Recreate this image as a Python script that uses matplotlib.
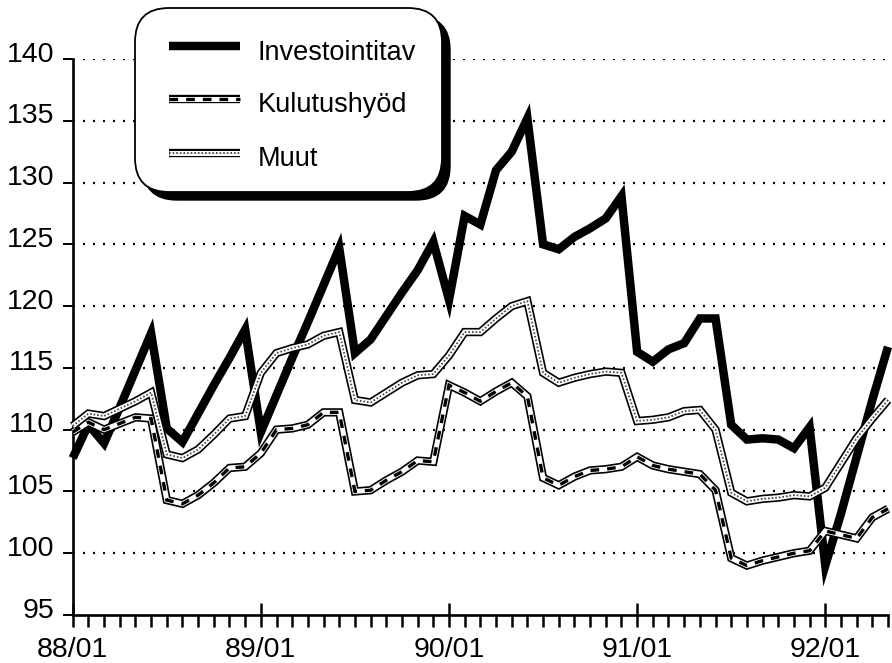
import matplotlib
matplotlib.use("Agg")
import matplotlib.pyplot as plt
import matplotlib.transforms as mtransforms
from matplotlib.patches import FancyBboxPatch

# ---------------- data ----------------
tick_labels = ["88/01", "89/01", "90/01", "91/01", "92/01"]
tick_positions = [0, 12, 24, 36, 48]
y_ticks = [95, 100, 105, 110, 115, 120, 125, 130, 135, 140]
series_names = ["Investointitav", "Kulutushyöd", "Muut"]

investointitav = [107.7, 110.4, 108.9, 111.8, 114.8, 117.8, 110.1, 109.0, 111.3, 113.6, 115.8, 118.1,
                  109.8, 112.8, 115.8, 118.7, 121.7, 124.7, 116.2, 117.3, 119.2, 121.1, 122.9, 125.2,
                  120.5, 127.3, 126.6, 131.0, 132.5, 135.2, 125.0, 124.6, 125.6, 126.3, 127.1, 128.9,
                  116.3, 115.5, 116.5, 117.0, 119.0, 119.0, 110.4, 109.2, 109.3, 109.2, 108.5, 110.2,
                  99.0, 103.2, 107.8, 112.4, 116.7]
kulutushyod = [109.8, 110.6, 110.0, 110.5, 111.0, 110.9, 104.3, 104.0, 104.7, 105.7, 106.9, 107.0,
               108.1, 110.0, 110.1, 110.4, 111.4, 111.4, 105.0, 105.1, 105.9, 106.6, 107.5, 107.4,
               113.6, 113.0, 112.3, 113.1, 113.8, 112.7, 106.1, 105.5, 106.2, 106.7, 106.8, 107.0,
               107.8, 107.1, 106.8, 106.6, 106.4, 105.1, 99.6, 99.0, 99.4, 99.7, 100.0, 100.2,
               101.8, 101.5, 101.2, 102.9, 103.6]
muut = [110.3, 111.3, 111.1, 111.7, 112.3, 113.0, 108.0, 107.7, 108.4, 109.6, 110.9, 111.1,
        114.6, 116.2, 116.6, 116.9, 117.6, 117.9, 112.4, 112.2, 113.0, 113.8, 114.4, 114.5,
        116.0, 117.9, 117.9, 119.0, 120.0, 120.4, 114.6, 113.8, 114.2, 114.5, 114.7, 114.6,
        110.7, 110.8, 111.0, 111.5, 111.6, 110.0, 104.9, 104.2, 104.4, 104.5, 104.7, 104.6,
        105.3, 107.3, 109.3, 110.9, 112.4]

months = list(range(len(investointitav)))

plt.rcParams['font.family'] = ['Liberation Sans', 'DejaVu Sans']

W, H = 892, 663
fig = plt.figure(figsize=(W / 100, H / 100), dpi=100)
ax = fig.add_axes([72.7 / W, 1 - 615 / H, (888 - 72.7) / W, (615 - 59) / H])

OUT_LW, IN_LW = 6.0, 3.6


def draw_invest(a, x, y, **kw):
    a.plot(x, y, color='black', lw=6.1, solid_joinstyle='miter', solid_capstyle='butt',
           clip_on=False, zorder=3, **kw)


def draw_kulutus(a, x, y, **kw):
    a.plot(x, y, color='black', lw=OUT_LW, solid_joinstyle='miter', solid_capstyle='butt',
           clip_on=False, zorder=4, **kw)
    a.plot(x, y, color='white', lw=IN_LW, solid_joinstyle='miter', solid_capstyle='butt',
           clip_on=False, zorder=5, **kw)
    a.plot(x, y, color='black', lw=2.4, dashes=(2.6, 2.4), dash_capstyle='butt',
           dash_joinstyle='miter', clip_on=False, zorder=6, **kw)


def draw_muut(a, x, y, **kw):
    a.plot(x, y, color='black', lw=OUT_LW, solid_joinstyle='miter', solid_capstyle='butt',
           clip_on=False, zorder=7, **kw)
    a.plot(x, y, color='white', lw=IN_LW, solid_joinstyle='miter', solid_capstyle='butt',
           clip_on=False, zorder=8, **kw)
    a.plot(x, y, color='#444444', lw=1.3, dashes=(0.9, 1.1), dash_capstyle='butt',
           clip_on=False, zorder=9, **kw)


draw_invest(ax, months, investointitav)
draw_kulutus(ax, months, kulutushyod)
draw_muut(ax, months, muut)

ax.set_xlim(0, len(months) - 1)
ax.set_ylim(95, 140)

for s in ['top', 'right']:
    ax.spines[s].set_visible(False)
for s in ['left', 'bottom']:
    ax.spines[s].set_linewidth(1.9)

# dotted grid at 100..140
for v in y_ticks[1:]:
    ax.axhline(v, color='black', lw=1.6, dashes=(0.9, 3.6), dash_capstyle='butt', zorder=1)

ax.set_yticks(y_ticks)
ax.set_yticklabels([str(v) for v in y_ticks])
ax.set_xticks(tick_positions)
ax.set_xticklabels(tick_labels)
ax.set_xticks(months, minor=True)

ax.tick_params(axis='y', direction='out', length=7.2, width=1.4, pad=6, labelsize=20.5)
ax.tick_params(axis='x', which='major', direction='inout', length=17, width=1.8, pad=7, labelsize=20.5)
ax.tick_params(axis='x', which='minor', direction='out', length=8.6, width=1.8)

shift = mtransforms.ScaledTranslation(0, 7.5 / 100, fig.dpi_scale_trans)
for lab in ax.get_yticklabels():
    lab.set_transform(lab.get_transform() + shift)

# ---------------- legend (overlay in pixel coords) ----------------
ov = fig.add_axes([0, 0, 1, 1], zorder=10)
ov.set_xlim(0, W)
ov.set_ylim(H, 0)
ov.axis('off')
ov.patch.set_visible(False)

bx, by, bw, bh = 135, 8, 307, 184
shadow = FancyBboxPatch((bx + 8, by + 8), bw, bh, boxstyle="round,pad=0,rounding_size=34",
                        fc='black', ec='black', lw=1.0, zorder=1)
box = FancyBboxPatch((bx, by), bw, bh, boxstyle="round,pad=0,rounding_size=34",
                     fc='white', ec='black', lw=1.3, zorder=2)
ov.add_patch(shadow)
ov.add_patch(box)

lx = [169, 240]
draw_invest(ov, lx, [46, 46])
draw_kulutus(ov, lx, [99, 99])
draw_muut(ov, lx, [153, 153])
for name, yb in zip(series_names, [59.5, 112.5, 166.5]):
    ov.text(258, yb, name, fontsize=19.5, va='baseline', ha='left', zorder=12)

fig.savefig("out.png", dpi=100)
